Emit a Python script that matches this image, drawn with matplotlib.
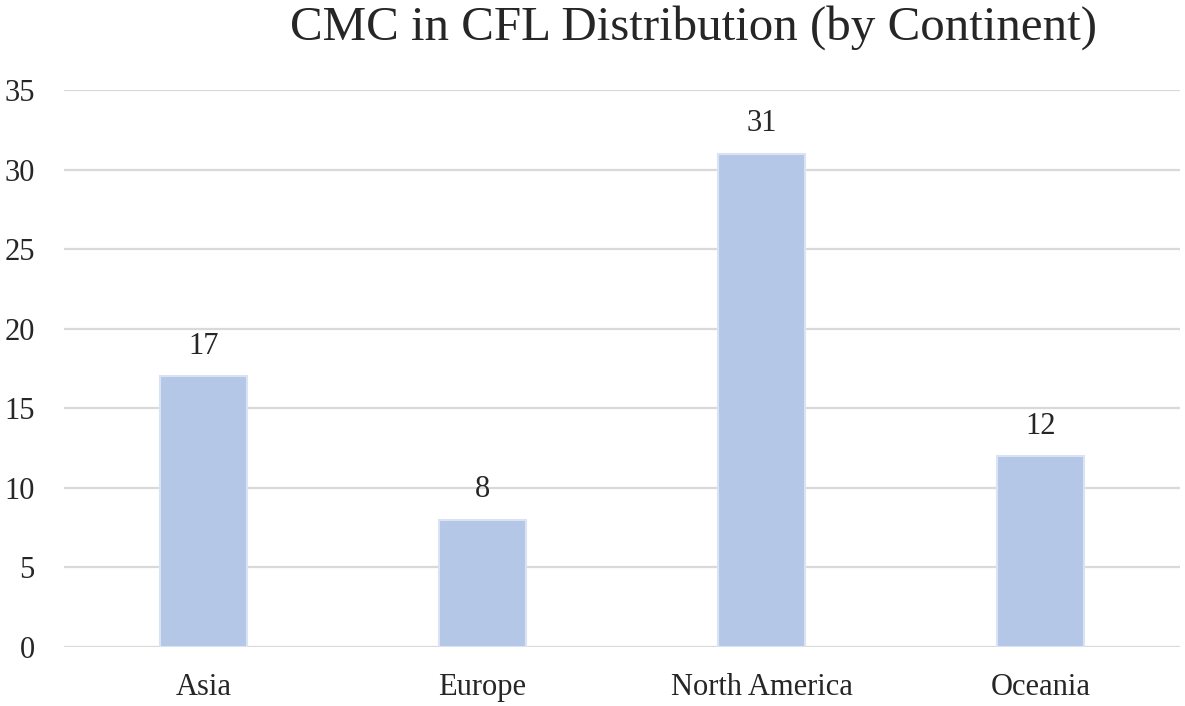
import numpy as np
import matplotlib
matplotlib.use("Agg")
import matplotlib.pyplot as plt

plt.rcParams.update({
    "font.family": "Liberation Serif",
    "font.size": 22,
})

continents = ["Asia", "Europe", "North America", "Oceania"]
counts = [17, 8, 31, 12]
yticks = [0, 5, 10, 15, 20, 25, 30, 35]

fig = plt.figure(figsize=(11.85, 7.06), dpi=100)
ax = fig.add_axes([64 / 1185, 59 / 706, 1116 / 1185, 557 / 706])

x = np.arange(len(continents))
bars = ax.bar(x, counts, width=0.31, color="#b4c7e7", edgecolor="#dae3f3",
              linewidth=1.5, zorder=3)
for b, v in zip(bars, counts):
    ax.annotate(str(v), (b.get_x() + b.get_width() / 2, v),
                xytext=(0, 11), textcoords="offset points",
                ha="center", va="bottom", fontsize=22, color="#262626")

ax.set_xlim(-0.5, len(continents) - 0.5)
ax.set_ylim(0, 35)
ax.set_yticks(yticks)
ax.set_xticks(x)
ax.set_xticklabels(continents)
ax.grid(axis="y", color="#d9d9d9", linewidth=1.6, zorder=0)
ax.tick_params(length=0, colors="#262626", labelsize=22)
ax.tick_params(axis="y", pad=21)
ax.tick_params(axis="x", pad=19)
for s in ax.spines.values():
    s.set_visible(False)

fig.text(694 / 1185, 1 - 28 / 706, "CMC in CFL Distribution (by Continent)",
         ha="center", va="center", fontsize=35.3, color="#262626")

fig.savefig("out.png", dpi=100)
